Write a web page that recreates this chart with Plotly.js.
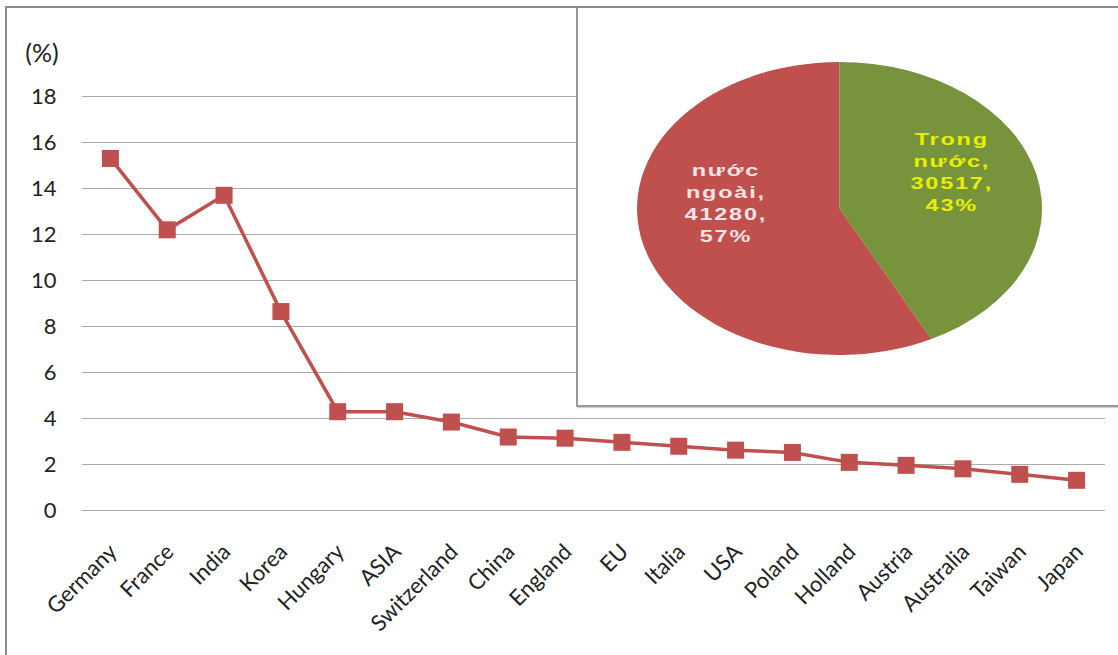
<!DOCTYPE html>
<html>
<head>
<meta charset="utf-8">
<script src="https://cdn.plot.ly/plotly-3.0.1.min.js"></script>
<style>
  html, body { margin:0; padding:0; width:1118px; height:655px; overflow:hidden; background:#fff; }
  #main { position:absolute; left:0; top:0; width:1118px; height:655px; }
  #frame { position:absolute; left:5px; top:6px; width:1200px; height:700px;
           border-left:2px solid #8c8c8c; border-top:2px solid #8c8c8c; pointer-events:none; }
  #inset { position:absolute; left:576px; top:6px; width:600px; height:397px; background:#fff;
           border-left:2px solid #9a9a9a; border-bottom:2px solid #9a9a9a; border-top:2px solid #8c8c8c;
           box-shadow: 1px 1px 1px #d0d0d0; overflow:hidden; }
  #pie { position:absolute; left:115px; top:54px; width:293px; height:293px;
         transform: scaleX(1.382); transform-origin: 50% 50%; }
  #pie text.slicetext { letter-spacing: 1.3px; }
  #pie g.slice:nth-child(1) g.slicetext { transform: translate(9px, -19px); }
  #pie g.slice:nth-child(2) g.slicetext { transform: translate(-11px, -22px); }
</style>
</head>
<body>
<div id="main"></div>
<div id="inset"><div id="pie"></div></div>
<div id="frame"></div>
<script>
// ---- line chart data ----
const countries = ['Germany','France','India','Korea','Hungary','ASIA','Switzerland','China','England','EU','Italia','USA','Poland','Holland','Austria','Australia','Taiwan','Japan'];
const shares = [15.3, 12.2, 13.7, 8.65, 4.3, 4.3, 3.85, 3.2, 3.15, 2.97, 2.8, 2.63, 2.53, 2.1, 1.97, 1.82, 1.58, 1.32];
const yTicks = [0, 2, 4, 6, 8, 10, 12, 14, 16, 18];
const yUnit = '(%)';

// ---- pie data ----
const pieLabels = ['Trong<br>nước', 'nước<br>ngoài'];
const pieValues = [30517, 41280];
const pieColors = ['#77933C', '#C0504D'];
const pieTextColors = ['#E8F000', '#F6E4E4'];

const lineTrace = {
  type: 'scatter',
  mode: 'lines+markers',
  x: countries,
  y: shares,
  line: { color: '#C0504D', width: 3.5 },
  marker: { symbol: 'square', size: 17, color: '#C0504D' },
  hoverinfo: 'x+y'
};

const fontFam = 'Lato, Carlito, Calibri, sans-serif';

const mainLayout = {
  width: 1118, height: 655,
  margin: { l: 82, r: 13, t: 94, b: 142 },
  paper_bgcolor: '#ffffff', plot_bgcolor: '#ffffff',
  showlegend: false,
  title: { text: yUnit, x: 42/1118, y: 1 - 53/655, xref: 'container', yref: 'container',
           xanchor: 'center', yanchor: 'middle', font: { family: fontFam, size: 25, color: '#222' } },
  xaxis: {
    type: 'category',
    range: [-0.5, countries.length - 0.5],
    showgrid: false, showline: false, zeroline: false,
    tickangle: -45,
    ticks: 'outside', ticklen: 16, tickcolor: 'rgba(0,0,0,0)',
    tickfont: { family: fontFam, size: 22, color: '#222' }
  },
  yaxis: {
    range: [-0.1, 18.1],
    tickvals: yTicks,
    showgrid: true, gridcolor: '#ababab', gridwidth: 1,
    zeroline: true, zerolinecolor: '#ababab', zerolinewidth: 1,
    showline: false,
    ticks: 'outside', ticklen: 20, tickcolor: 'rgba(0,0,0,0)',
    tickfont: { family: fontFam, size: 22, color: '#222' }
  }
};

Plotly.newPlot('main', [lineTrace], mainLayout, { staticPlot: true });

const pieTrace = {
  type: 'pie',
  labels: pieLabels,
  values: pieValues,
  sort: false,
  direction: 'clockwise',
  rotation: 0,
  marker: { colors: pieColors, line: { width: 0 } },
  textposition: 'inside',
  insidetextorientation: 'horizontal',
  texttemplate: '%{label},<br>%{value:d},<br>%{percent:.0%}',
  insidetextfont: { family: 'Liberation Sans, Arial, sans-serif', size: 17, weight: 'bold', color: pieTextColors },
  hoverinfo: 'label+value+percent'
};

Plotly.newPlot('pie', [pieTrace], {
  width: 293, height: 293,
  margin: { l: 0, r: 0, t: 0, b: 0 },
  paper_bgcolor: 'rgba(0,0,0,0)',
  showlegend: false
}, { staticPlot: true });
</script>
</body>
</html>
